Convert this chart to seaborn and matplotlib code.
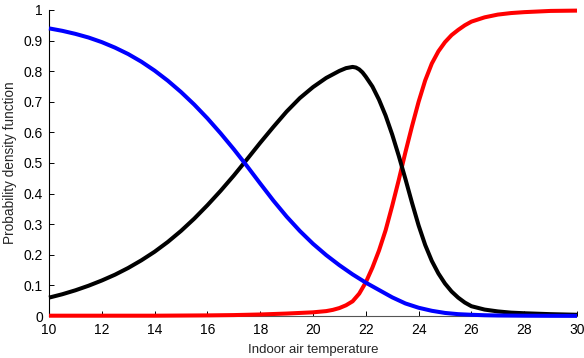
import matplotlib
matplotlib.use("Agg")
import matplotlib.pyplot as plt
import seaborn as sns
import pandas as pd

# ---- data ----
blue_x = [10, 10.5, 11, 11.5, 12, 12.5, 13, 13.5, 14, 14.5, 15, 15.5, 16, 16.5, 17, 17.5,
          18, 18.5, 19, 19.5, 20, 20.5, 21, 21.5, 22, 22.5, 23, 23.5, 24, 24.5, 25, 25.5,
          26, 26.5, 27, 28, 29, 30]
blue_y = [0.940, 0.932, 0.922, 0.910, 0.895, 0.877, 0.856, 0.831, 0.802, 0.769, 0.732,
          0.691, 0.646, 0.597, 0.545, 0.490, 0.433, 0.377, 0.325, 0.278, 0.236, 0.199,
          0.166, 0.136, 0.109, 0.085, 0.061, 0.041, 0.027, 0.017, 0.010, 0.006, 0.004,
          0.0025, 0.0017, 0.001, 0.0006, 0.0004]

black_x = [10, 10.5, 11, 11.5, 12, 12.5, 13, 13.5, 14, 14.5, 15, 15.5, 16, 16.5, 17, 17.5,
           18, 18.5, 19, 19.5, 20, 20.5, 21, 21.25, 21.5, 21.625, 21.75, 21.875, 22, 22.25,
           22.5, 22.75, 23, 23.25, 23.5, 23.75, 24, 24.25, 24.5, 24.75, 25, 25.25, 25.5,
           25.75, 26, 26.5, 27, 27.5, 28, 29, 30]
black_y = [0.060, 0.071, 0.084, 0.099, 0.116, 0.135, 0.157, 0.182, 0.210, 0.242, 0.278,
           0.318, 0.362, 0.409, 0.459, 0.512, 0.566, 0.618, 0.668, 0.712, 0.748, 0.778,
           0.801, 0.810, 0.814, 0.812, 0.806, 0.796, 0.782, 0.750, 0.707, 0.655, 0.593,
           0.523, 0.448, 0.370, 0.296, 0.232, 0.180, 0.139, 0.106, 0.080, 0.060, 0.044,
           0.032, 0.021, 0.015, 0.011, 0.009, 0.006, 0.004]

red_x = [10, 12, 14, 15, 16, 17, 18, 19, 19.5, 20, 20.5, 20.75, 21, 21.25, 21.5, 21.75,
         22, 22.25, 22.5, 22.75, 23, 23.25, 23.5, 23.75, 24, 24.25, 24.5, 24.75, 25,
         25.25, 25.5, 25.75, 26, 26.5, 27, 27.5, 28, 29, 30]
red_y = [0.001, 0.001, 0.001, 0.0015, 0.002, 0.003, 0.005, 0.008, 0.010, 0.012, 0.016,
         0.020, 0.026, 0.035, 0.048, 0.073, 0.110, 0.158, 0.214, 0.280, 0.360, 0.445,
         0.535, 0.620, 0.700, 0.770, 0.825, 0.865, 0.895, 0.918, 0.935, 0.950, 0.962,
         0.976, 0.985, 0.990, 0.993, 0.997, 0.998]

x_ticks = [10, 12, 14, 16, 18, 20, 22, 24, 26, 28, 30]
y_ticks = [0, 0.1, 0.2, 0.3, 0.4, 0.5, 0.6, 0.7, 0.8, 0.9, 1]
y_tick_labels = ["0", "0.1", "0.2", "0.3", "0.4", "0.5", "0.6", "0.7", "0.8", "0.9", "1"]

sns.set_style("ticks")
plt.rcParams["font.family"] = ["Liberation Sans", "DejaVu Sans"]

fig = plt.figure(figsize=(5.84, 3.58), dpi=100)
ax = fig.add_axes([49 / 584, 42 / 358, (577 - 49) / 584, (316 - 10) / 358])

series = [
    (red_x, red_y, "#ff0000"),
    (black_x, black_y, "#000000"),
    (blue_x, blue_y, "#0000ff"),
]
for xs, ys, col in series:
    df = pd.DataFrame({"x": xs, "y": ys})
    sns.lineplot(data=df, x="x", y="y", ax=ax, color=col, linewidth=2.9,
                 clip_on=False, zorder=3, solid_joinstyle="round",
                 solid_capstyle="butt")

ax.set_xlim(10, 30)
ax.set_ylim(0, 1)
ax.set_xticks(x_ticks)
ax.set_xticklabels([str(t) for t in x_ticks])
ax.set_yticks(y_ticks)
ax.set_yticklabels(y_tick_labels)
ax.tick_params(axis="both", direction="in", length=3.5, width=0.7, labelsize=10,
               colors="#000000")
ax.tick_params(axis="x", pad=5)
ax.tick_params(axis="y", pad=4.5)
for side in ("top", "right"):
    ax.spines[side].set_visible(False)
ax.spines["left"].set_linewidth(0.8)
ax.spines["bottom"].set_linewidth(0.8)
ax.spines["left"].set_color("#000000")
ax.spines["bottom"].set_color("#555555")

ax.set_xlabel("Indoor air temperature", fontsize=9.5, labelpad=5)
ax.set_ylabel("Probability density function", fontsize=9.8, labelpad=4.5)

fig.savefig("out.png", dpi=100)
